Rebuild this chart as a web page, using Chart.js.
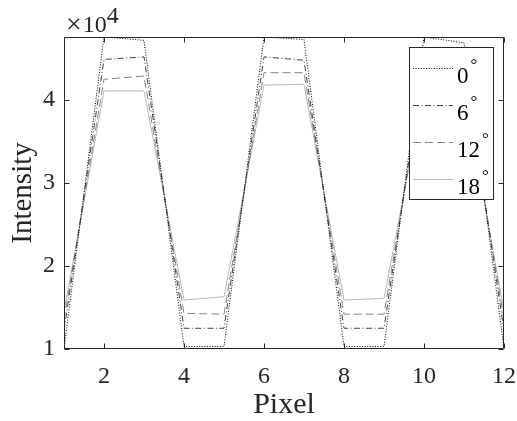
<!DOCTYPE html>
<html>
<head>
<meta charset="utf-8">
<script src="https://cdn.jsdelivr.net/npm/chart.js@4.4.1/dist/chart.umd.min.js"></script>
<style>
  html, body { margin: 0; padding: 0; background: #fff; }
  #wrap { width: 517px; height: 421px; }
</style>
</head>
<body>
<div id="wrap"><canvas id="intensityChart"></canvas></div>
<script>
// Giá trị
const pixels = [1, 2, 3, 4, 5, 6, 7, 8, 9, 10, 11, 12];
const angleLabels = ['0°', '6°', '12°', '18°'];
const intensity0 = [10000, 47600, 47200, 10300, 10300, 47600, 47300, 10300, 10300, 47600, 46900, 10000];
const intensity6 = [12200, 44900, 45200, 12500, 12500, 45200, 44800, 12500, 12500, 45000, 44800, 12200];
const intensity12 = [13500, 42500, 42900, 14300, 14200, 43300, 43300, 14200, 14200, 43000, 43000, 13500];
const intensity18 = [14500, 41100, 41100, 15900, 16300, 41800, 41900, 15900, 16100, 41500, 41500, 14500];
const xTicks = [2, 4, 6, 8, 10, 12];
const yTicks = [10000, 20000, 30000, 40000];

const axisColor = '#262626';
const serif = "'Liberation Serif', 'Times New Roman', serif";

function toPoints(values) {
    return values.map((v, i) => ({ x: pixels[i], y: v }));
}

// Khung, vạch chia hướng vào trong, nhãn ×10^4
const framePlugin = {
    id: 'frame',
    afterDatasetsDraw(chart) {
        const ctx = chart.ctx;
        const a = chart.chartArea;
        const xs = chart.scales.x;
        const ys = chart.scales.y;
        const L = Math.round(a.left) + 0.5, R = Math.round(a.right) - 0.5;
        const T = Math.round(a.top) + 0.5, B = Math.round(a.bottom) - 0.5;
        ctx.save();
        ctx.strokeStyle = axisColor;
        ctx.lineWidth = 1;
        ctx.beginPath();
        ctx.rect(L, T, R - L, B - T);
        xTicks.forEach(v => {
            const px = Math.round(xs.getPixelForValue(v)) + 0.5;
            ctx.moveTo(px, B); ctx.lineTo(px, B - 5);
            ctx.moveTo(px, T); ctx.lineTo(px, T + 5);
        });
        yTicks.forEach(v => {
            const py = Math.round(ys.getPixelForValue(v)) + 0.5;
            ctx.moveTo(L, py); ctx.lineTo(L + 5, py);
            ctx.moveTo(R, py); ctx.lineTo(R - 5, py);
        });
        ctx.stroke();

        ctx.fillStyle = axisColor;
        ctx.textAlign = 'left';
        ctx.textBaseline = 'alphabetic';
        ctx.font = '28px ' + serif;
        ctx.fillText('×', 66, 33);
        let x = 66 + ctx.measureText('×').width + 1;
        ctx.font = '24px ' + serif;
        ctx.fillText('10', x, 32);
        x += ctx.measureText('10').width;
        ctx.fillText('4', x, 23);
        ctx.restore();
    }
};

// Chú thích vẽ tay trong vùng biểu đồ
const legendBoxPlugin = {
    id: 'legendBox',
    afterDraw(chart) {
        const ctx = chart.ctx;
        const box = { x: 409.5, y: 47.5, w: 84, h: 152 };
        ctx.save();
        ctx.fillStyle = '#fff';
        ctx.fillRect(box.x, box.y, box.w, box.h);
        ctx.strokeStyle = axisColor;
        ctx.lineWidth = 1;
        ctx.strokeRect(box.x, box.y, box.w, box.h);

        chart.data.datasets.forEach((ds, i) => {
            const ly = Math.round(68 + i * 37) + 0.5;
            ctx.strokeStyle = ds.borderColor;
            ctx.lineWidth = ds.borderWidth;
            ctx.setLineDash(ds.borderDash || []);
            ctx.beginPath();
            ctx.moveTo(413, ly);
            ctx.lineTo(453, ly);
            ctx.stroke();
            ctx.setLineDash([]);

            const txt = ds.label.replace('°', '');
            ctx.fillStyle = '#000';
            ctx.textAlign = 'left';
            ctx.textBaseline = 'alphabetic';
            ctx.font = '23px ' + serif;
            ctx.fillText(txt, 457, ly + 14.5);
            const w = ctx.measureText(txt).width;
            ctx.font = '17px ' + serif;
            ctx.fillText('°', 457 + w + 2, ly + 14.5 - 13);
        });
        ctx.restore();
    }
};

const ctx = document.getElementById('intensityChart').getContext('2d');
window.intensityChart = new Chart(ctx, {
    type: 'line',
    data: {
        datasets: [
            {
                label: angleLabels[0],
                data: toPoints(intensity0),
                borderColor: '#000000',
                borderWidth: 1,
                borderDash: [1, 1.6]
            },
            {
                label: angleLabels[1],
                data: toPoints(intensity6),
                borderColor: '#404040',
                borderWidth: 1,
                borderDash: [6, 2.5, 1, 2.5]
            },
            {
                label: angleLabels[2],
                data: toPoints(intensity12),
                borderColor: '#868686',
                borderWidth: 1,
                borderDash: [8, 4]
            },
            {
                label: angleLabels[3],
                data: toPoints(intensity18),
                borderColor: '#b8b8b8',
                borderWidth: 1,
                borderDash: []
            }
        ]
    },
    options: {
        responsive: true,
        maintainAspectRatio: false,
        animation: false,
        devicePixelRatio: 1,
        elements: { point: { radius: 0 }, line: { tension: 0 } },
        layout: { padding: { top: 37, right: 13, left: 0, bottom: 0 } },
        plugins: {
            legend: { display: false },
            tooltip: { enabled: false }
        },
        scales: {
            x: {
                type: 'linear',
                min: 1,
                max: 12,
                afterBuildTicks: s => { s.ticks = xTicks.map(v => ({ value: v })); },
                afterFit: s => {
                    s.height = 72;
                    s.paddingLeft = 0;
                    s.paddingRight = 0;
                },
                grid: { display: false, drawTicks: false },
                border: { display: false },
                ticks: {
                    color: axisColor,
                    padding: 13,
                    maxRotation: 0,
                    font: { family: serif, size: 24 }
                },
                title: {
                    display: true,
                    text: 'Pixel',
                    color: axisColor,
                    padding: { top: 0, bottom: 0 },
                    font: { family: serif, size: 30, lineHeight: 1.05 }
                }
            },
            y: {
                type: 'linear',
                min: 10000,
                max: 47600,
                afterBuildTicks: s => { s.ticks = yTicks.map(v => ({ value: v })); },
                afterFit: s => {
                    s.width = 64;
                    s.paddingTop = 0;
                    s.paddingBottom = 0;
                },
                grid: { display: false, drawTicks: false },
                border: { display: false },
                ticks: {
                    color: axisColor,
                    padding: 9,
                    callback: v => String(v / 10000),
                    font: { family: serif, size: 24 }
                },
                title: {
                    display: true,
                    text: 'Intensity',
                    color: axisColor,
                    padding: { top: 8, bottom: 0 },
                    font: { family: serif, size: 29, lineHeight: 1.05 }
                }
            }
        }
    },
    plugins: [framePlugin, legendBoxPlugin]
});
</script>
</body>
</html>
